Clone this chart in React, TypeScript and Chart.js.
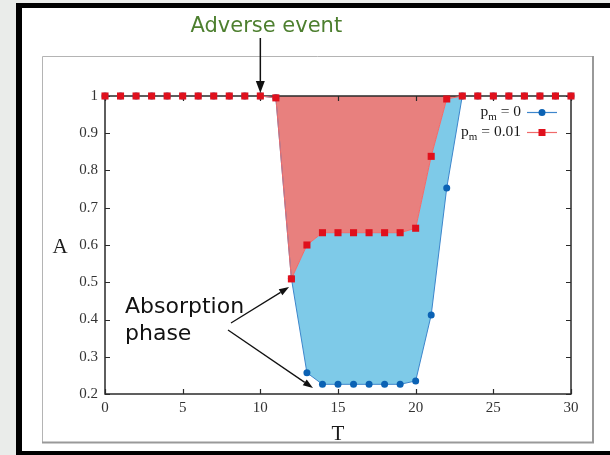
import React, { useEffect, useRef } from 'react';
import { Chart, registerables } from 'chart.js';

Chart.register(...registerables);

// ---- data ----
const T = [0, 1, 2, 3, 4, 5, 6, 7, 8, 9, 10, 11, 12, 13, 14, 15, 16, 17, 18, 19, 20, 21, 22, 23, 24, 25, 26, 27, 28, 29, 30];
const pm0 = [1, 1, 1, 1, 1, 1, 1, 1, 1, 1, 1, 0.995, 0.51, 0.257, 0.226, 0.226, 0.226, 0.226, 0.226, 0.226, 0.235, 0.412, 0.753, 1, 1, 1, 1, 1, 1, 1, 1];
const pm001 = [1, 1, 1, 1, 1, 1, 1, 1, 1, 1, 1, 0.995, 0.509, 0.6, 0.633, 0.633, 0.633, 0.633, 0.633, 0.633, 0.645, 0.838, 0.992, 1, 1, 1, 1, 1, 1, 1, 1];
const seriesValues = ['0', '0.01'];
const xTicks = [0, 5, 10, 15, 20, 25, 30];
const yTicks = [0.2, 0.3, 0.4, 0.5, 0.6, 0.7, 0.8, 0.9, 1];
const xTitle = 'T';
const yTitle = 'A';
const adverseT = 10;
const adverseLabel = 'Adverse event';
const absorptionLines = ['Absorption', 'phase'];
const absorptionTips = [
  { x: 11.85, y: 0.487 },
  { x: 13.39, y: 0.216 },
];

const BLUE_FILL = 'rgb(126,202,232)';
const RED_FILL = 'rgb(232,128,126)';
const BLUE_PT = '#0b62b4';
const RED_PT = '#e0101c';
const BLUE_LINE = '#3d86cc';
const RED_LINE = '#f06a6a';

function arrow(ctx: CanvasRenderingContext2D, x0: number, y0: number, x1: number, y1: number, lw: number, hl: number, hw: number) {
  const ang = Math.atan2(y1 - y0, x1 - x0);
  const bx = x1 - hl * Math.cos(ang);
  const by = y1 - hl * Math.sin(ang);
  ctx.save();
  ctx.strokeStyle = '#111';
  ctx.fillStyle = '#111';
  ctx.lineWidth = lw;
  ctx.beginPath();
  ctx.moveTo(x0, y0);
  ctx.lineTo(bx, by);
  ctx.stroke();
  ctx.beginPath();
  ctx.moveTo(x1, y1);
  ctx.lineTo(bx + (hw / 2) * Math.sin(ang), by - (hw / 2) * Math.cos(ang));
  ctx.lineTo(bx - (hw / 2) * Math.sin(ang), by + (hw / 2) * Math.cos(ang));
  ctx.closePath();
  ctx.fill();
  ctx.restore();
}

const decorPlugin = {
  id: 'decor',
  beforeDraw(chart: any) {
    const ctx = chart.ctx as CanvasRenderingContext2D;
    const W = chart.width, H = chart.height;
    ctx.save();
    ctx.fillStyle = '#eaecea';
    ctx.fillRect(0, 0, W, H);
    ctx.fillStyle = '#000';
    ctx.fillRect(16, 3, W - 16, H - 3);
    ctx.fillStyle = '#fff';
    ctx.fillRect(22, 8, W - 22, 443);
    // inner frame
    ctx.strokeStyle = '#b4b4b4';
    ctx.lineWidth = 1;
    ctx.beginPath();
    ctx.moveTo(42.5, 442);
    ctx.lineTo(42.5, 56.5);
    ctx.lineTo(593, 56.5);
    ctx.stroke();
    ctx.strokeStyle = '#999';
    ctx.lineWidth = 2;
    ctx.beginPath();
    ctx.moveTo(593, 56);
    ctx.lineTo(593, 442.5);
    ctx.lineTo(42, 442.5);
    ctx.stroke();
    ctx.restore();
  },
  beforeDatasetsDraw(chart: any) {
    const ctx = chart.ctx as CanvasRenderingContext2D;
    const { left, right, top, bottom } = chart.chartArea;
    const xs = chart.scales.x, ys = chart.scales.y;
    ctx.save();
    ctx.strokeStyle = '#2a2a2a';
    ctx.lineWidth = 1.5;
    ctx.strokeRect(left, top, right - left, bottom - top);
    ctx.lineWidth = 1.2;
    ctx.beginPath();
    xTicks.forEach((v) => {
      const x = Math.round(xs.getPixelForValue(v)) + 0.5;
      ctx.moveTo(x, bottom); ctx.lineTo(x, bottom - 5);
      ctx.moveTo(x, top); ctx.lineTo(x, top + 5);
    });
    yTicks.forEach((v) => {
      const y = Math.round(ys.getPixelForValue(v)) + 0.5;
      ctx.moveTo(left, y); ctx.lineTo(left + 5, y);
      ctx.moveTo(right, y); ctx.lineTo(right - 5, y);
    });
    ctx.stroke();
    ctx.restore();
  },
  afterDraw(chart: any) {
    const ctx = chart.ctx as CanvasRenderingContext2D;
    const xs = chart.scales.x, ys = chart.scales.y;
    const { top, left } = chart.chartArea;
    ctx.save();
    // axis titles
    ctx.fillStyle = '#1a1a1a';
    ctx.font = '21px "Liberation Serif"';
    ctx.textAlign = 'center';
    ctx.textBaseline = 'alphabetic';
    ctx.fillText(xTitle, xs.getPixelForValue(15), 440);
    ctx.fillText(yTitle, left - 45, ys.getPixelForValue(0.6) + 8);

    // legend
    const rows = [
      { v: seriesValues[0], y: 112, color: BLUE_LINE, pt: BLUE_PT, shape: 'circle' },
      { v: seriesValues[1], y: 132, color: RED_LINE, pt: RED_PT, shape: 'rect' },
    ];
    const rightX = 521;
    rows.forEach((r) => {
      const main = '15.5px "Liberation Serif"';
      const sub = '11px "Liberation Serif"';
      ctx.font = main;
      const wp = ctx.measureText('p').width;
      const wr = ctx.measureText(' = ' + r.v).width;
      ctx.font = sub;
      const wm = ctx.measureText('m').width;
      let x = rightX - (wp + wm + wr);
      ctx.fillStyle = '#1a1a1a';
      ctx.textAlign = 'left';
      ctx.textBaseline = 'alphabetic';
      ctx.font = main;
      ctx.fillText('p', x, r.y + 4);
      x += wp;
      ctx.font = sub;
      ctx.fillText('m', x, r.y + 8);
      x += wm;
      ctx.font = main;
      ctx.fillText(' = ' + r.v, x, r.y + 4);
      ctx.strokeStyle = r.color;
      ctx.lineWidth = 1.2;
      ctx.beginPath();
      ctx.moveTo(527, r.y + 0.5);
      ctx.lineTo(557, r.y + 0.5);
      ctx.stroke();
      ctx.fillStyle = r.pt;
      if (r.shape === 'circle') {
        ctx.beginPath();
        ctx.arc(542, r.y + 0.5, 3.5, 0, Math.PI * 2);
        ctx.fill();
      } else {
        ctx.fillRect(538.5, r.y - 3, 7, 7);
      }
    });

    // Adverse event annotation
    const ax = xs.getPixelForValue(adverseT);
    ctx.fillStyle = '#4d7f2f';
    ctx.font = '21px "DejaVu Sans"';
    ctx.textAlign = 'center';
    ctx.fillText(adverseLabel, ax + 6, 32);
    arrow(ctx, ax, 38, ax, top - 3, 1.5, 12, 9);

    // Absorption phase annotation
    ctx.fillStyle = '#111';
    ctx.font = '22px "DejaVu Sans"';
    ctx.textAlign = 'left';
    ctx.fillText(absorptionLines[0], 125, 313);
    ctx.fillText(absorptionLines[1], 125, 340);
    const t0 = absorptionTips[0], t1 = absorptionTips[1];
    arrow(ctx, 231, 323, xs.getPixelForValue(t0.x), ys.getPixelForValue(t0.y), 1.3, 10, 7);
    arrow(ctx, 228, 330, xs.getPixelForValue(t1.x), ys.getPixelForValue(t1.y), 1.3, 10, 7);
    ctx.restore();
  },
};

const hideFlat = (ctx: any) =>
  ctx.p0.parsed.y === 1 && ctx.p1.parsed.y === 1 ? 'rgba(0,0,0,0)' : undefined;

export default function App() {
  const ref = useRef<HTMLCanvasElement>(null);
  useEffect(() => {
    if (!ref.current) return;
    const chart = new Chart(ref.current, {
      type: 'line',
      data: {
        datasets: [
          {
            label: 'pm = ' + seriesValues[0],
            data: T.map((t, i) => ({ x: t, y: pm0[i] })),
            borderColor: BLUE_LINE,
            borderWidth: 1,
            backgroundColor: BLUE_FILL,
            pointBackgroundColor: BLUE_PT,
            pointBorderColor: BLUE_PT,
            pointRadius: 3.5,
            pointBorderWidth: 0,
            pointStyle: 'circle',
            fill: '+1',
            tension: 0,
            order: 1,
            clip: false,
            segment: { borderColor: hideFlat },
          },
          {
            label: 'pm = ' + seriesValues[1],
            data: T.map((t, i) => ({ x: t, y: pm001[i] })),
            borderColor: RED_LINE,
            borderWidth: 1,
            backgroundColor: RED_FILL,
            pointBackgroundColor: RED_PT,
            pointBorderColor: RED_PT,
            pointRadius: 5,
            pointBorderWidth: 0,
            pointStyle: 'rect',
            fill: 'end',
            tension: 0,
            order: 0,
            clip: false,
            segment: { borderColor: hideFlat },
          },
        ],
      },
      options: {
        animation: false,
        responsive: false,
        layout: { padding: { left: 0, right: 39, top: 96, bottom: 31 } },
        plugins: {
          legend: { display: false },
          tooltip: { enabled: false },
          filler: { drawTime: 'beforeDatasetsDraw' },
        },
        scales: {
          x: {
            type: 'linear',
            min: 0,
            max: 30,
            afterBuildTicks: (s: any) => { s.ticks = xTicks.map((v) => ({ value: v })); },
            afterFit: (s: any) => { s.height = 30; },
            grid: { display: false, drawTicks: false },
            border: { display: false },
            ticks: {
              color: '#333',
              font: { family: '"Liberation Serif"', size: 15 },
              padding: 5,
              maxRotation: 0,
              callback: (v: any) => String(v),
            },
          },
          y: {
            type: 'linear',
            min: 0.2,
            max: 1,
            afterBuildTicks: (s: any) => { s.ticks = yTicks.map((v) => ({ value: v })); },
            afterFit: (s: any) => { s.width = 105; },
            grid: { display: false, drawTicks: false },
            border: { display: false },
            ticks: {
              color: '#333',
              font: { family: '"Liberation Serif"', size: 15 },
              padding: 7,
              callback: (v: any) => String(+Number(v).toFixed(1)),
            },
          },
        },
      } as any,
      plugins: [decorPlugin],
    });
    return () => chart.destroy();
  }, []);
  return (
    <div style={{ position: 'fixed', left: 0, top: 0, width: 610, height: 455 }}>
      <canvas ref={ref} width={610} height={455} style={{ width: 610, height: 455, display: 'block' }} />
    </div>
  );
}
